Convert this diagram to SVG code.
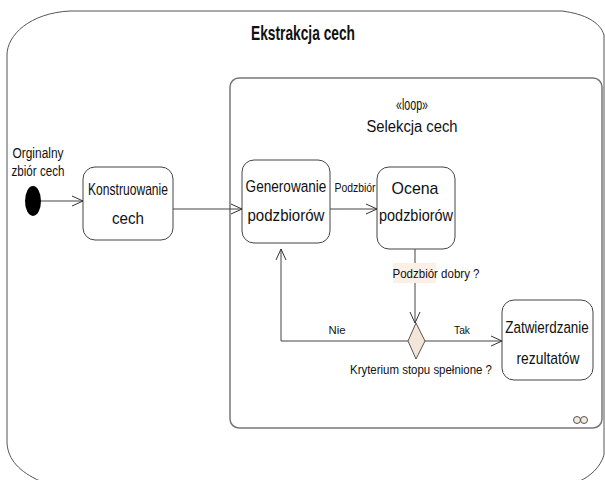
<svg xmlns="http://www.w3.org/2000/svg" width="605" height="480" viewBox="0 0 605 480">
<defs>
<marker id="arr" viewBox="0 0 12 12" refX="11" refY="6" markerWidth="12" markerHeight="12" markerUnits="userSpaceOnUse" orient="auto">
<path d="M0,1 L11,6 L0,11" fill="none" stroke="#333" stroke-width="1"/>
</marker>
<style>
text{font-family:"Liberation Sans",Arial,sans-serif;fill:#111;text-anchor:middle}
.box{fill:#fff;stroke:#444;stroke-width:1}
.con{fill:none;stroke:#444;stroke-width:1}
.lbl{font-size:17px}
.sm{font-size:13px}
</style>
</defs>
<rect width="605" height="480" fill="#fff"/>
<g id="outer">
<path d="M70,11 L562,11 C585,14 600,22 604,35 L604,455 C600,468 590,476 580,481 L40,481 C20,472 8,460 7,443 L7,55 C7,35 30,13 70,11 Z" fill="none" stroke="#555" stroke-width="1"/>
<text x="303" y="40" font-size="21" font-weight="bold" textLength="104" lengthAdjust="spacingAndGlyphs">Ekstrakcja cech</text>
</g>
<g id="loop">
<rect x="230" y="78" width="372" height="350" rx="9" fill="none" stroke="#777" stroke-width="1.5"/>
<text x="412" y="110" font-size="16" textLength="32" lengthAdjust="spacingAndGlyphs">«loop»</text>
<text x="412" y="132" font-size="16" textLength="91" lengthAdjust="spacingAndGlyphs">Selekcja cech</text>
<circle cx="577" cy="420" r="3.5" fill="#f3e9dc" stroke="#555" stroke-width="1"/>
<circle cx="584" cy="420" r="3.5" fill="#f3e9dc" stroke="#555" stroke-width="1"/>
</g>
<g id="start">
<text x="38" y="158" font-size="14" textLength="51" lengthAdjust="spacingAndGlyphs">Orginalny</text>
<text x="38" y="176" font-size="14" textLength="53" lengthAdjust="spacingAndGlyphs">zbiór cech</text>
<ellipse cx="33" cy="201" rx="8" ry="15" fill="#000"/>
</g>
<g id="konstruowanie">
<rect class="box" x="83" y="167" width="90" height="73" rx="12"/>
<text class="lbl" x="128" y="195" textLength="80" lengthAdjust="spacingAndGlyphs">Konstruowanie</text>
<text class="lbl" x="128" y="224" textLength="32" lengthAdjust="spacingAndGlyphs">cech</text>
</g>
<g id="generowanie">
<rect class="box" x="242" y="160" width="88" height="83" rx="12"/>
<text class="lbl" transform="translate(286,192) scale(0.8,1)">Generowanie</text>
<text class="lbl" x="286" y="221" textLength="77" lengthAdjust="spacingAndGlyphs">podzbiorów</text>
</g>
<g id="ocena">
<rect class="box" x="377" y="167" width="78" height="82" rx="12"/>
<text class="lbl" x="415" y="194" textLength="47" lengthAdjust="spacingAndGlyphs">Ocena</text>
<text class="lbl" x="416" y="221" textLength="74" lengthAdjust="spacingAndGlyphs">podzbiorów</text>
</g>
<g id="zatwierdzanie">
<rect class="box" x="502" y="300" width="91" height="80" rx="12"/>
<text class="lbl" transform="translate(547,333) scale(0.79,1)">Zatwierdzanie</text>
<text class="lbl" x="548" y="364" textLength="63" lengthAdjust="spacingAndGlyphs">rezultatów</text>
</g>
<g id="decision">
<polygon points="416,323 425,341 416,359 408,341" fill="#f3e6d8" stroke="#555" stroke-width="1"/>
</g>
<g id="connectors">
<line class="con" x1="41" y1="201" x2="83" y2="201" marker-end="url(#arr)"/>
<line class="con" x1="173" y1="209" x2="242" y2="209" marker-end="url(#arr)"/>
<line class="con" x1="330" y1="209" x2="377" y2="209" marker-end="url(#arr)"/>
<line class="con" x1="415" y1="249" x2="415" y2="323" marker-end="url(#arr)"/>
<polyline class="con" points="408,341 281,341 281,249" marker-end="url(#arr)"/>
<line class="con" x1="425" y1="341" x2="502" y2="341" marker-end="url(#arr)"/>
<text class="sm" transform="translate(355,192) scale(0.8,1)">Podzbiór</text>
<rect x="393" y="263" width="43" height="20" fill="#fcefe5"/>
<text class="sm" x="436" y="278" textLength="87" lengthAdjust="spacingAndGlyphs">Podzbiór dobry ?</text>
<text x="337" y="334" font-size="11" textLength="17" lengthAdjust="spacingAndGlyphs">Nie</text>
<text x="462" y="334" font-size="11" textLength="16" lengthAdjust="spacingAndGlyphs">Tak</text>
<text class="sm" x="421" y="374" textLength="142" lengthAdjust="spacingAndGlyphs">Kryterium stopu spełnione ?</text>
</g>
</svg>
